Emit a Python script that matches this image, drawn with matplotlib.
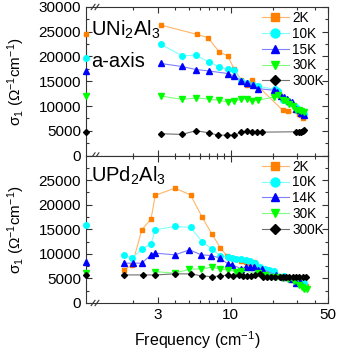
import matplotlib
matplotlib.use('Agg')
import matplotlib.pyplot as plt
from matplotlib.ticker import NullFormatter

plt.rcParams['font.family'] = ['Liberation Sans', 'DejaVu Sans']
plt.rcParams['mathtext.fontset'] = 'custom'
plt.rcParams['mathtext.rm'] = 'Liberation Sans'
plt.rcParams['mathtext.it'] = 'Liberation Sans:italic'
plt.rcParams['mathtext.bf'] = 'Liberation Sans:bold'

# ---------------- data: UNi2Al3 (a-axis) ----------------
top_labels = ['2K', '10K', '15K', '30K', '300K']
top_dc = [24500, 19600, 17000, 12000, 4800]
top_f_2K = [3.15, 5.73, 6.87, 8.27, 9.52, 10.6, 11.9, 13.1, 14.3, 15.7, 23.7, 25.7, 31.1, 31.9, 32.8]
top_s_2K = [26350, 24470, 23800, 20940, 20130, 17430, 15340, 14330, 15200, 13990, 9120, 8920, 8450, 8100, 7640]
top_f_10K = [3.15, 4.49, 5.64, 6.94, 8.27, 9.52, 10.6, 11.9, 13.1, 14.5, 15.7, 20.7, 21.8, 23.7, 25.7, 29.5, 31.1, 31.9, 33.7]
top_s_10K = [22440, 20130, 20270, 18910, 17900, 17400, 17200, 15060, 14660, 14330, 13990, 13380, 13030, 11150, 10740, 9790, 9120, 8780, 8450]
top_f_15K = [3.15, 4.45, 5.64, 6.94, 9.52, 10.6, 11.9, 13.0, 14.5, 15.7, 20.4, 21.6, 23.0, 24.3, 25.4, 26.4, 27.4, 29.4, 31.1, 31.9, 33.4]
top_s_15K = [18590, 17980, 17370, 17090, 16560, 16070, 15060, 14740, 14330, 13520, 13180, 12830, 12020, 11820, 11350, 10950, 10800, 9470, 9120, 8570, 8110]
top_f_30K = [3.15, 4.45, 5.64, 6.94, 8.27, 9.52, 10.6, 11.9, 13.1, 14.3, 15.7, 20.4, 21.8, 23.7, 25.0, 26.4, 27.9, 29.4, 31.1, 31.9, 33.4]
top_s_30K = [12020, 11350, 11610, 11410, 11150, 10800, 11010, 11350, 11410, 11010, 11150, 11820, 12160, 11290, 11010, 10480, 9930, 9260, 9120, 8920, 8780]
top_f_300K = [3.15, 4.45, 5.64, 6.94, 8.1, 9.4, 10.6, 11.9, 13.1, 14.3, 15.5, 16.8, 29.4, 30.8, 31.9, 32.8, 33.7]
top_s_300K = [4400, 4260, 5000, 4600, 4110, 4110, 4110, 4660, 4860, 4790, 4720, 4720, 4790, 4720, 4720, 4860, 5070]

# ---------------- data: UPd2Al3 ----------------
bot_labels = ['2K', '10K', '14K', '30K', '300K']
bot_dc = [None, 15900, 8400, 6100, 5700]
bot_f_2K = [1.71, 1.96, 2.30, 2.68, 2.87, 3.98, 5.15, 6.22, 7.33, 8.41, 9.37, 10.3, 11.0, 11.9, 12.8, 13.7, 14.7, 15.7, 17.5, 20.5, 23.7, 25.7, 27.9, 29.4, 31.1, 32.8, 34.6]
bot_s_2K = [6730, 7750, 14890, 17080, 21890, 23360, 21970, 17540, 14010, 11280, 9590, 9120, 8920, 8630, 8430, 8220, 8430, 7410, 6800, 6000, 5040, 5040, 4690, 4350, 4010, 3670, 3470]
bot_f_10K = [1.71, 1.96, 2.31, 2.68, 2.87, 3.98, 5.15, 6.22, 7.33, 8.41, 9.52, 10.3, 11.0, 11.9, 12.8, 13.7, 14.9, 16.2, 17.5, 19.0, 20.4, 24.3, 27.9, 31.1, 33.7]
bot_s_10K = [9790, 9120, 11020, 12040, 14890, 15570, 15360, 12500, 10950, 9590, 9450, 9120, 8920, 8920, 8770, 8630, 8100, 7410, 6870, 6730, 6590, 5510, 4830, 4350, 4010]
bot_f_14K = [1.71, 1.99, 2.30, 2.68, 2.87, 3.98, 5.06, 6.16, 7.26, 8.41, 9.63, 10.3, 11.9, 12.8, 13.7, 14.7, 15.7, 16.9, 21.0, 24.0, 27.0, 29.4, 31.5]
bot_s_14K = [8100, 8100, 8100, 9790, 10140, 9790, 10810, 9790, 9650, 9120, 7890, 7750, 6940, 7280, 7280, 7280, 6730, 6870, 5710, 5300, 4900, 4010, 4300]
bot_f_30K = [2.87, 3.98, 5.06, 6.16, 7.33, 8.41, 9.52, 11.0, 11.9, 15.7, 17.5, 19.4, 21.0, 23.7, 26.0, 28.5, 31.1, 32.5, 33.7, 35.6]
bot_s_30K = [6390, 6050, 6870, 6940, 7280, 6870, 6730, 6390, 6530, 6050, 5710, 5370, 5370, 5100, 4900, 4500, 3700, 3330, 2790, 2790]
bot_f_300K = [1.71, 2.36, 2.87, 3.98, 5.15, 6.22, 7.33, 8.41, 9.52, 10.4, 11.4, 12.3, 13.2, 14.1, 15.0, 16.2, 17.0, 18.2, 19.5, 20.9, 22.5, 23.7, 25.0, 26.4, 27.9, 29.4, 31.1, 32.8, 34.6]
bot_s_300K = [5710, 5710, 5710, 5920, 5920, 5510, 5370, 5510, 5710, 5510, 5710, 5570, 5570, 5570, 5710, 5920, 5200, 5200, 5200, 5200, 5200, 5200, 5200, 5200, 5200, 5200, 5200, 5200, 5200]

x_major = [3, 10, 50]
x_major_labels = ['3', '10', '50']
x_minor = [2, 4, 5, 6, 7, 8, 9, 20, 30, 40]

# ---------------- styles ----------------
mcolors = ['#FF8000', '#00FFFF', '#0000FF', '#00FF00', '#000000']
lcolors = ['#FFB56A', '#80FFFF', '#7F7FFF', '#7FFF7F', '#707070']
markers = ['s', 'o', '^', 'v', 'D']
msizes = [3.5, 4, 4, 4, 3]

XMIN, XMAX = 0.914, 50

fig = plt.figure(figsize=(3.38, 3.52), dpi=100)
L = 86 / 338
W = (328 - 86) / 338
ax1 = fig.add_axes([L, 1 - 155.5 / 352, W, 148.5 / 352])
ax2 = fig.add_axes([L, 1 - 303 / 352, W, 147.5 / 352])

top_series = [(top_f_2K, top_s_2K), (top_f_10K, top_s_10K), (top_f_15K, top_s_15K),
              (top_f_30K, top_s_30K), (top_f_300K, top_s_300K)]
bot_series = [(bot_f_2K, bot_s_2K), (bot_f_10K, bot_s_10K), (bot_f_14K, bot_s_14K),
              (bot_f_30K, bot_s_30K), (bot_f_300K, bot_s_300K)]

for ax, series, labels, dc in [(ax1, top_series, top_labels, top_dc),
                               (ax2, bot_series, bot_labels, bot_dc)]:
    for i, ((f, s), lab) in enumerate(zip(series, labels)):
        ax.plot(f, s, color=lcolors[i], lw=0.8, marker=markers[i], ms=msizes[i],
                mfc=mcolors[i], mec=mcolors[i], label=lab)
        if dc[i] is not None:
            ax.plot([XMIN], [dc[i]], ls='none', marker=markers[i], ms=msizes[i],
                    mfc=mcolors[i], mec=mcolors[i], clip_on=False, zorder=5)
    ax.set_xscale('log')
    ax.set_xlim(XMIN, XMAX)
    ax.set_ylim(0, 30000)
    ax.set_xticks(x_major, labels=x_major_labels)
    ax.set_xticks(x_minor, minor=True)
    ax.xaxis.set_minor_formatter(NullFormatter())
    ax.set_yticks(range(0, 30001, 5000))
    ax.set_yticks(range(2500, 30000, 5000), minor=True)
    ax.tick_params(which='both', direction='in', top=True, right=True, labelsize=11,
                   width=0.8, color='#333333')
    ax.tick_params(which='major', length=4)
    ax.tick_params(which='minor', length=2.5)
    for sp in ax.spines.values():
        sp.set_linewidth(0.8)
        sp.set_color('#333333')
    ax.set_ylabel('σ$_1$ (Ω$^{-1}$cm$^{-1}$)', fontsize=11)
    ax.yaxis.set_label_coords(-0.245, 0.5)
    leg = ax.legend(loc='upper right', bbox_to_anchor=(1.0, 1.0), frameon=False,
                    fontsize=9.8, handlelength=2.0, handletextpad=0.25,
                    labelspacing=0.13, markerscale=1.6, borderaxespad=0.0,
                    borderpad=0.3)

ax1.tick_params(labelbottom=False)
ax2.set_yticklabels(['0', '5000', '10000', '15000', '20000', '25000', ''])

ax1.text(0.02, 0.845, 'UNi$_2$Al$_3$', transform=ax1.transAxes, fontsize=14.5, va='center')
ax1.text(0.02, 0.636, 'a-axis', transform=ax1.transAxes, fontsize=14.5, va='center')
ax2.text(0.02, 0.86, 'UPd$_2$Al$_3$', transform=ax2.transAxes, fontsize=14.5, va='center')

fig.text(197 / 338, 1 - 340 / 352, 'Frequency (cm$^{-1}$)', ha='center', va='center', fontsize=11.5)

# axis break marks "//"
def brk(ax, ypos, h):
    for dx in (-0.012, 0.004):
        x0 = (96 - 86) / 242 + dx
        ax.plot([x0 - 0.008, x0 + 0.008], [ypos - h, ypos + h], transform=ax.transAxes,
                color='#333333', lw=0.8, clip_on=False, zorder=10)

brk(ax1, 1.0, 0.018)
brk(ax1, 0.0, 0.018)
brk(ax2, 0.0, 0.018)

fig.savefig('out.png', dpi=100)
